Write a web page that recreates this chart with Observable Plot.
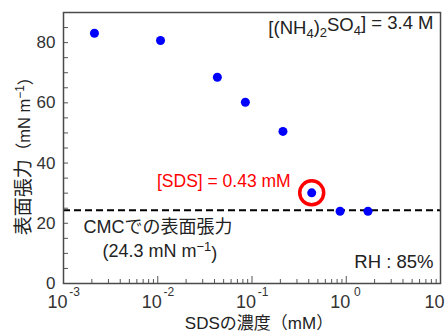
<!DOCTYPE html>
<html>
<head>
<meta charset="utf-8">
<script src="https://cdn.jsdelivr.net/npm/d3@7"></script>
<script src="https://cdn.jsdelivr.net/npm/@observablehq/plot@0.6"></script>
<style>
  html, body { margin: 0; padding: 0; background: #fff; }
  #chart svg { display: block; }
</style>
</head>
<body>
<div id="chart"></div>
<script>
// ---- data ----
const sdsConc = [0.00213, 0.0107, 0.0429, 0.085, 0.213, 0.43, 0.86, 1.70];   // mM
const tension = [83.1, 80.7, 68.5, 60.2, 50.5, 30.1, 24.0, 24.0];           // mN m^-1
const highlightConc = [0.43];
const highlightTension = [30.1];
const cmcTension = [24.3];
const xMajorTicks = [0.001, 0.01, 0.1, 1, 10];
const xTickExponents = ["-3", "-2", "-1", "0", "1"];
const xMinorMultipliers = [2, 3, 4, 5, 6, 7, 8, 9];
const yLabelTicks = [0, 20, 40, 60, 80];
const yMinorTicks = [0, 5, 10, 15, 20, 25, 30, 35, 40, 45, 50, 55, 60, 65, 70, 75, 80, 85];
const xTitle = "SDSの濃度（mM）";
const yTitle = "表面張力（mN m-1）";
const saltLabel = "[(NH4)2SO4] = 3.4 M";
const rhLabel = "RH : 85%";
const sdsLabel = "[SDS] = 0.43 mM";
const cmcLabel1 = "CMCでの表面張力";
const cmcLabel2 = "(24.3 mN m-1)";

const points = sdsConc.map((x, i) => ({x, y: tension[i]}));
const highlight = highlightConc.map((x, i) => ({x, y: highlightTension[i]}));
const xMinorTicks = xMajorTicks.slice(0, -1).flatMap(d => xMinorMultipliers.map(m => d * m));
const majors = xMajorTicks.map((x, i) => ({x, e: xTickExponents[i]}));

const font = "'Liberation Sans', Arial, 'Noto Sans CJK JP', sans-serif";
const ink = "#222";

const chart = Plot.plot({
  width: 448,
  height: 333,
  marginLeft: 63,
  marginRight: 8,
  marginTop: 12,
  marginBottom: 50,
  style: {fontFamily: font, background: "#fff", color: ink, overflow: "visible"},
  x: {type: "log", domain: [0.001, 10], axis: null},
  y: {domain: [0, 90], axis: null},
  marks: [
    // dashed CMC line
    Plot.ruleY(cmcTension, {stroke: "#000", strokeWidth: 2, strokeDasharray: "7,4"}),
    // y axis: inward minor ticks & labels
    Plot.axisY({ticks: yMinorTicks, tickSize: 5, dx: 5, tickFormat: () => "", stroke: "#555", label: null}),
    Plot.axisY({ticks: yLabelTicks, tickSize: 0, tickPadding: 8, fontSize: 17, fill: "#333", label: null}),
    // x axis: inward ticks
    Plot.axisX({ticks: xMinorTicks, tickSize: 4, dy: -4, tickFormat: () => "", stroke: "#555", label: null}),
    Plot.axisX({ticks: xMajorTicks, tickSize: 7, dy: -7, tickFormat: () => "", stroke: "#555", label: null}),
    Plot.text(majors, {x: "x", frameAnchor: "bottom", lineAnchor: "middle", text: () => "10", dx: -6, dy: 19, fontSize: 18, fill: "#333"}),
    Plot.text(majors, {x: "x", frameAnchor: "bottom", lineAnchor: "middle", text: "e", dx: 11, dy: 8.5, fontSize: 12, fill: "#333"}),
    // frame
    Plot.frame({stroke: "#4a4a4a", strokeWidth: 1.5}),
    // data points
    Plot.dot(points, {x: "x", y: "y", r: 4.5, fill: "#0000ff", stroke: "none"}),
    Plot.dot(highlight, {x: "x", y: "y", r: 12, fill: "none", stroke: "#ff0000", strokeWidth: 3.5}),
    // annotations
    Plot.text(highlight, {x: "x", y: "y", text: () => sdsLabel, textAnchor: "end", lineAnchor: "middle", dx: -21, dy: -11, fontSize: 17.5, fill: "#ff0000"}),
    Plot.text(cmcTension, {x: () => 0.001, y: d => d, text: () => cmcLabel1, textAnchor: "start", lineAnchor: "middle", dx: 20, dy: 17, fontSize: 18, fill: ink}),
    Plot.text(cmcTension, {x: () => 0.001, y: d => d, text: () => cmcLabel2, textAnchor: "start", lineAnchor: "middle", dx: 39, dy: 41, fontSize: 18, fill: ink}),
    Plot.text([saltLabel], {frameAnchor: "top-right", text: d => d, textAnchor: "end", lineAnchor: "middle", dx: -7, dy: 16, fontSize: 18.5, fill: ink}),
    Plot.text([rhLabel], {frameAnchor: "bottom-right", text: d => d, textAnchor: "end", lineAnchor: "middle", dx: -7, dy: -21.5, fontSize: 18.5, fill: ink}),
    // axis titles
    Plot.text([xTitle], {frameAnchor: "bottom", text: d => d, textAnchor: "middle", lineAnchor: "middle", dx: 7, dy: 40, fontSize: 17, fill: ink}),
    Plot.text([yTitle], {frameAnchor: "left", text: d => d, textAnchor: "middle", lineAnchor: "middle", rotate: -90, dx: -40, dy: 4, fontSize: 19, fill: ink})
  ]
});

// rich-text formatting (sub/superscripts)
const rich = {
  [saltLabel]: '[(NH<tspan dy="0.3em" font-size="13">4</tspan><tspan dy="-0.3em">)</tspan><tspan dy="0.3em" font-size="13">2</tspan><tspan dy="-0.3em">SO</tspan><tspan dy="0.3em" font-size="13">4</tspan><tspan dy="-0.3em">] = 3.4 M</tspan>',
  [cmcLabel2]: '(24.3 mN m<tspan dy="-0.45em" font-size="13">−1</tspan><tspan dy="0.45em">)</tspan>',
  [yTitle]: '表面張力<tspan font-size="16.5">（mN m</tspan><tspan dy="-0.45em" font-size="12">−1</tspan><tspan dy="0.45em" font-size="16.5">）</tspan>'
};
d3.select(chart).selectAll("text").each(function () {
  const t = this.textContent;
  if (rich[t]) this.innerHTML = rich[t];
});

document.getElementById("chart").append(chart);
</script>
</body>
</html>
